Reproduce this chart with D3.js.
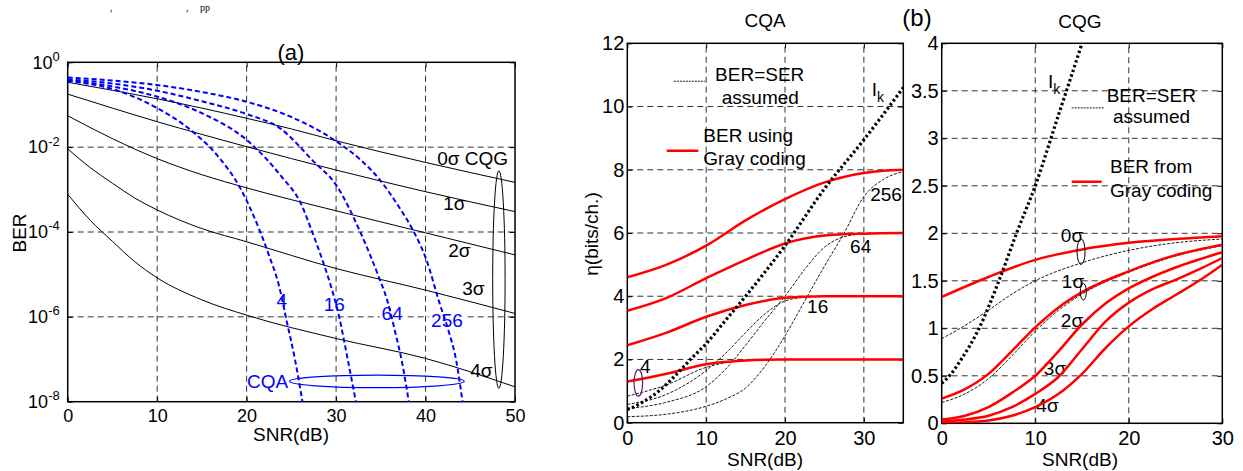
<!DOCTYPE html>
<html>
<head>
<meta charset="utf-8">
<script src="https://cdn.jsdelivr.net/npm/d3@7"></script>
<style>
  body { margin: 0; background: #fff; }
  svg { display: block; font-family: "Liberation Sans", Arial, sans-serif; }
</style>
</head>
<body>
<div id="chart-area"></div>
<script>
// ---------- panel (a): log10(BER) against SNR (dB) ----------
const cqgBer0s = [[0,-0.47],[5,-0.66],[10,-0.86],[15,-1.08],[20,-1.32],[25,-1.57],[30,-1.85],[40,-2.36],[50,-2.83]];
const cqgBer1s = [[0,-0.75],[5,-1.08],[10,-1.40],[15,-1.70],[20,-1.99],[30,-2.54],[40,-3.05],[50,-3.52]];
const cqgBer2s = [[0,-1.26],[5,-1.80],[10,-2.27],[15,-2.65],[20,-2.96],[30,-3.50],[40,-4.02],[50,-4.54]];
const cqgBer3s = [[0,-2.04],[2.5,-2.48],[5,-2.85],[7.5,-3.20],[10,-3.48],[15,-3.92],[20,-4.23],[30,-4.86],[40,-5.37],[50,-5.92]];
const cqgBer4s = [[0,-3.11],[2.5,-3.72],[5,-4.22],[7.5,-4.70],[10,-5.08],[15,-5.60],[20,-5.96],[30,-6.51],[40,-6.98],[50,-7.65]];

const cqaBer4   = [[0,-0.44],[5,-0.63],[10,-1.08],[14,-1.64],[16.7,-2.19],[19.3,-2.97],[21.3,-3.88],[22.5,-4.55],[23.6,-5.25],[24.5,-6.12],[25.4,-7.0],[26.4,-8.2]];
const cqaBer16  = [[0,-0.42],[5,-0.57],[10,-0.81],[15,-1.20],[20,-1.83],[24,-2.72],[26,-3.30],[27.3,-3.98],[28.6,-4.74],[29.5,-5.33],[30.3,-5.96],[31.3,-7.0],[32.3,-8.1]];
const cqaBer64  = [[0,-0.40],[5,-0.50],[10,-0.67],[15,-0.92],[20,-1.22],[23.7,-1.55],[27.5,-2.34],[30,-2.89],[32.7,-4.0],[34.7,-5.02],[35.7,-5.6],[36.6,-6.35],[37.4,-7.1],[38.2,-8.1]];
const cqaBer256 = [[0,-0.36],[5,-0.43],[10,-0.535],[15,-0.70],[20,-0.93],[25,-1.29],[30,-1.86],[33,-2.35],[35,-2.8],[37,-3.4],[38.7,-4.0],[40,-4.6],[41.6,-5.7],[42.6,-6.35],[43.4,-7.0],[44.2,-8.1]];

const berTicksX = [0, 10, 20, 30, 40, 50];
const berTicksY = [1e-8, 1e-6, 1e-4, 1e-2, 1];

// ---------- panel (b) left: CQA throughput (bits/ch.) ----------
const ikCurve = [[0,0.42],[1,0.52],[2,0.66],[4,1.0],[6,1.47],[8,2.0],[10,2.5],[12.5,3.25],[15,4.0],[20,5.6],[25,7.4],[30,8.95],[35,10.6]];

const grayQam4   = [[0,1.30],[5,1.55],[10,1.85],[15,1.97],[20,2.0],[35,2.0]];
const grayQam16  = [[0,2.45],[5,2.85],[10,3.35],[15,3.72],[20,3.95],[25,4.0],[35,4.0]];
const grayQam64  = [[0,3.54],[5,3.95],[10,4.57],[15,5.15],[20,5.67],[25,5.92],[30,5.98],[35,6.0]];
const grayQam256 = [[0,4.60],[5,5.0],[10,5.6],[15,6.4],[20,7.07],[25,7.6],[30,7.9],[35,8.0]];

const serQam4   = [[0,0.84],[5,1.2],[10,1.75],[12.5,1.9],[15,1.97],[17.5,2.0],[35,2.0]];
const serQam16  = [[0,0.58],[5,0.9],[10,1.65],[12.5,2.2],[15,2.85],[17.5,3.45],[20,3.85],[22.5,3.97],[25,4.0],[35,4.0]];
const serQam64  = [[0,0.45],[5,0.65],[10,1.14],[12.5,1.7],[15,2.45],[17.5,3.25],[20,4.0],[22.5,4.85],[25,5.55],[27.5,5.88],[30,5.97],[35,6.0]];
const serQam256 = [[0,0.19],[5,0.27],[10,0.52],[12.5,0.75],[15,1.1],[17.5,1.8],[20,2.75],[22.5,3.85],[25,4.95],[27.5,6.0],[30,7.15],[32.5,7.7],[35,7.94]];

const cqaTicksX = [0, 10, 20, 30];
const cqaTicksY = [0, 2, 4, 6, 8, 10, 12];

// ---------- panel (b) right: CQG throughput ----------
const cqgGray0 = [[0,1.33],[5,1.54],[10,1.72],[15,1.83],[20,1.9],[25,1.94],[30,1.97]];
const cqgGray1 = [[0,0.26],[2.5,0.36],[5,0.52],[7.5,0.76],[10,1.01],[12.5,1.22],[15,1.38],[20,1.6],[25,1.77],[30,1.88]];
const cqgGray2 = [[0,0.04],[2.5,0.08],[5,0.17],[7.5,0.32],[10,0.5],[12.5,0.76],[15,1.04],[17.5,1.26],[20,1.42],[22.5,1.54],[25,1.64],[30,1.8]];
const cqgGray3 = [[0,0.02],[2.5,0.04],[5,0.08],[7.5,0.17],[10,0.31],[12.5,0.49],[15,0.78],[17.5,1.07],[20,1.27],[22.5,1.41],[25,1.51],[27.5,1.62],[30,1.74]];
const cqgGray4 = [[0,0.005],[2.5,0.012],[5,0.03],[7.5,0.08],[10,0.17],[12.5,0.31],[15,0.52],[17.5,0.79],[20,1.02],[22.5,1.2],[25,1.35],[27.5,1.5],[30,1.67]];
const cqgSer0  = [[0,0.89],[2.5,1.03],[5,1.19],[7.5,1.36],[10,1.5],[15,1.69],[20,1.82],[25,1.9],[30,1.94]];
const cqgSer1  = [[0,0.22],[2.5,0.31],[5,0.47],[7.5,0.71],[10,0.97],[12.5,1.19],[15,1.36],[20,1.59],[25,1.76],[30,1.87]];

const cqgTicksX = [0, 10, 20, 30];
const cqgTicksY = [0, 0.5, 1, 1.5, 2, 2.5, 3, 3.5, 4];

const FONT = '"Liberation Sans", Arial, sans-serif';

let svg = d3.select("#chart-area")
  .append("svg")
    .attr("width", 1243)
    .attr("height", 471);

svg.append("rect").attr("width", 1243).attr("height", 471).attr("fill", "#fff");

// remains of the page text above the figure
svg.append("g")
    .attr("font-family", '"Liberation Serif", "Times New Roman", serif')
    .attr("font-size", 10)
  .selectAll("text")
  .data([[110, ","], [186, ","], [200, "pp"]])
  .enter().append("text")
    .attr("x", d => d[0])
    .attr("y", 11)
    .text(d => d[1]);

// grid, ticks on all four sides and the box
function frame(g, x, y, xt, yt, xGrid, yGrid, fontSize, yPad) {
  let [x0, x1] = x.range(), [y0, y1] = y.range();

  let grid = g.append("g")
      .attr("stroke", "#333")
      .attr("stroke-width", 1)
      .attr("stroke-dasharray", "6,4");
  xGrid.forEach(v => grid.append("line")
      .attr("x1", x(v)).attr("x2", x(v)).attr("y1", y0).attr("y2", y1));
  yGrid.forEach(v => grid.append("line")
      .attr("x1", x0).attr("x2", x1).attr("y1", y(v)).attr("y2", y(v)));

  let bottom = g.append("g")
      .attr("transform", `translate(0, ${y0})`)
      .call(d3.axisBottom(x).tickValues(xt).tickFormat(d => d)
        .tickSizeInner(-5).tickSizeOuter(0).tickPadding(8));
  g.append("g")
      .attr("transform", `translate(0, ${y1})`)
      .call(d3.axisTop(x).tickValues(xt).tickSizeInner(-5).tickSizeOuter(0).tickFormat(""));
  let left = g.append("g")
      .attr("transform", `translate(${x0}, 0)`)
      .call(d3.axisLeft(y).tickValues(yt).tickFormat(d => d)
        .tickSizeInner(-5).tickSizeOuter(0).tickPadding(yPad));
  g.append("g")
      .attr("transform", `translate(${x1}, 0)`)
      .call(d3.axisRight(y).tickValues(yt).tickSizeInner(-5).tickSizeOuter(0).tickFormat(""));

  g.selectAll(".domain").remove();
  g.selectAll(".tick line").attr("stroke", "#000");
  [bottom, left].forEach(a => a
      .attr("font-family", FONT)
      .attr("font-size", fontSize)
      .selectAll("text").attr("fill", "#000"));

  g.append("rect")
      .attr("x", x0).attr("y", y1)
      .attr("width", x1 - x0).attr("height", y0 - y1)
      .attr("fill", "none")
      .attr("stroke", "#000")
      .attr("stroke-width", 1.5);

  return left;
}

function clipFor(id, x, y) {
  let [x0, x1] = x.range(), [y0, y1] = y.range();
  svg.append("clipPath").attr("id", id)
    .append("rect")
      .attr("x", x0).attr("y", y1)
      .attr("width", x1 - x0).attr("height", y0 - y1);
  return svg.append("g").attr("clip-path", `url(#${id})`);
}

function label(g, x, y, pos, text, opts) {
  let t = g.append("text")
      .attr("x", x(pos[0]))
      .attr("y", y(pos[1]))
      .attr("dy", "0.35em")
      .attr("font-family", FONT)
      .attr("font-size", opts.size || 19)
      .attr("text-anchor", opts.anchor || "start")
      .attr("fill", opts.color || "#000")
      .text(text);
  if (opts.halo) {
    t.attr("stroke", "#fff").attr("stroke-width", 6).attr("paint-order", "stroke");
  }
  return t;
}

// =============== panel (a) ===============
let xa = d3.scaleLinear().domain([0, 50]).range([67.7, 515]);
let ya = d3.scaleLog().domain([1e-8, 1]).range([401.7, 62.3]);
let yaExp = v => ya(Math.pow(10, v));

let ga = svg.append("g");
let leftA = frame(ga, xa, ya, berTicksX, berTicksY, [10, 20, 30, 40], [1e-6, 1e-4, 1e-2], 18, 8);
leftA.selectAll(".tick text").each(function (d) {
  let t = d3.select(this).text("10");
  t.append("tspan")
      .attr("dy", "-0.6em")
      .attr("font-size", 13)
      .text(Math.round(Math.log10(d)));
});

let lineA = d3.line()
    .x(d => xa(d[0]))
    .y(d => yaExp(d[1]))
    .curve(d3.curveMonotoneX);

let plotA = clipFor("clip-a", xa, ya);

[cqgBer0s, cqgBer1s, cqgBer2s, cqgBer3s, cqgBer4s].forEach(s => plotA.append("path")
    .attr("d", lineA(s))
    .attr("fill", "none")
    .attr("stroke", "#000")
    .attr("stroke-width", 1));

[cqaBer4, cqaBer16, cqaBer64, cqaBer256].forEach(s => plotA.append("path")
    .attr("d", lineA(s))
    .attr("fill", "none")
    .attr("stroke", "#0000ff")
    .attr("stroke-width", 2)
    .attr("stroke-dasharray", "5,3"));

// CQA / CQG grouping ellipses
plotA.append("ellipse")
    .attr("cx", xa(34.56)).attr("cy", yaExp(-7.52))
    .attr("rx", xa(9.77) - xa(0)).attr("ry", 6.3)
    .attr("fill", "none").attr("stroke", "#0000ff").attr("stroke-width", 1.2);
plotA.append("ellipse")
    .attr("cx", xa(48.2)).attr("cy", yaExp(-5.12))
    .attr("rx", 6.2).attr("ry", 108.8)
    .attr("fill", "none").attr("stroke", "#000").attr("stroke-width", 1);

[["4", 23.94, -5.6], ["16", 29.79, -5.7], ["64", 36.27, -5.91], ["256", 42.39, -6.08]]
  .forEach(l => label(ga, xa, yaExp, [l[1], l[2]], l[0],
      { anchor: "middle", color: "#0000ff", halo: true }));
label(ga, xa, yaExp, [20.05, -7.52], "CQA", { color: "#0000ff" });

[["0σ CQG", 41.3, -2.257], ["1σ", 41.98, -3.32], ["2σ", 42.54, -4.43], ["3σ", 44.1, -5.32], ["4σ", 45.0, -7.26]]
  .forEach(l => label(ga, xa, yaExp, [l[1], l[2]], l[0], {}));

ga.append("text")
    .attr("x", 291).attr("y", 60)
    .attr("text-anchor", "middle")
    .attr("font-family", FONT).attr("font-size", 22)
    .text("(a)");
ga.append("text")
    .attr("x", 291).attr("y", 441)
    .attr("text-anchor", "middle")
    .attr("font-family", FONT).attr("font-size", 19)
    .text("SNR(dB)");
ga.append("text")
    .attr("transform", "translate(26, 233) rotate(-90)")
    .attr("text-anchor", "middle")
    .attr("font-family", FONT).attr("font-size", 19)
    .text("BER");

// =============== panel (b) left: CQA ===============
let xb = d3.scaleLinear().domain([0, 35]).range([627.3, 903.3]);
let yb = d3.scaleLinear().domain([0, 12]).range([422.7, 43.3]);

let gb = svg.append("g");
frame(gb, xb, yb, cqaTicksX, cqaTicksY, [10, 20, 30], [2, 4, 6, 8, 10], 20, 3);

let lineB = d3.line()
    .x(d => xb(d[0]))
    .y(d => yb(d[1]))
    .curve(d3.curveMonotoneX);

let plotB = clipFor("clip-b", xb, yb);

[serQam4, serQam16, serQam64, serQam256].forEach(s => plotB.append("path")
    .attr("d", lineB(s))
    .attr("fill", "none")
    .attr("stroke", "#000")
    .attr("stroke-width", 0.9)
    .attr("stroke-dasharray", "3,1.5"));

[grayQam4, grayQam16, grayQam64, grayQam256].forEach(s => plotB.append("path")
    .attr("d", lineB(s))
    .attr("fill", "none")
    .attr("stroke", "#ff0000")
    .attr("stroke-width", 2.5));

plotB.append("path")
    .attr("d", lineB(ikCurve))
    .attr("fill", "none")
    .attr("stroke", "#000")
    .attr("stroke-width", 3.2)
    .attr("stroke-dasharray", "2.5,2.5");

plotB.append("ellipse")
    .attr("cx", xb(1.4)).attr("cy", yb(1.26))
    .attr("rx", 4.3).attr("ry", 13.3)
    .attr("fill", "none").attr("stroke", "#5a1a6e").attr("stroke-width", 1.2);

// legend
gb.append("line")
    .attr("x1", xb(5.9)).attr("x2", xb(9.84)).attr("y1", yb(10.8)).attr("y2", yb(10.8))
    .attr("stroke", "#000").attr("stroke-width", 0.9).attr("stroke-dasharray", "2,1");
label(gb, xb, yb, [11.13, 11.03], "BER=SER", {});
label(gb, xb, yb, [11.98, 10.29], "assumed", {});
gb.append("line")
    .attr("x1", xb(5.0)).attr("x2", xb(9.0)).attr("y1", yb(8.6)).attr("y2", yb(8.6))
    .attr("stroke", "#ff0000").attr("stroke-width", 2.5);
label(gb, xb, yb, [9.64, 9.1], "BER using", {});
label(gb, xb, yb, [9.64, 8.36], "Gray coding", {});

[["256", 30.8, 7.23], ["64", 28.25, 5.57], ["16", 22.8, 3.67], ["4", 1.61, 1.77]]
  .forEach(l => label(gb, xb, yb, [l[1], l[2]], l[0], {}));

let ikB = label(gb, xb, yb, [31.0, 10.55], "I", {});
ikB.append("tspan").attr("dy", "0.45em").attr("font-size", 14).text("k");

gb.append("text")
    .attr("x", 765).attr("y", 27)
    .attr("text-anchor", "middle")
    .attr("font-family", FONT).attr("font-size", 19)
    .text("CQA");
gb.append("text")
    .attr("x", 765).attr("y", 466)
    .attr("text-anchor", "middle")
    .attr("font-family", FONT).attr("font-size", 19)
    .text("SNR(dB)");
gb.append("text")
    .attr("transform", "translate(598, 234) rotate(-90)")
    .attr("text-anchor", "middle")
    .attr("font-family", FONT).attr("font-size", 19)
    .text("η(bits/ch.)");

// =============== panel (b) right: CQG ===============
let xc = d3.scaleLinear().domain([0, 30]).range([941.7, 1222.3]);
let yc = d3.scaleLinear().domain([0, 4]).range([423.3, 43.3]);

let gc = svg.append("g");
frame(gc, xc, yc, cqgTicksX, cqgTicksY, [10, 20], [0.5, 1, 1.5, 2, 2.5, 3, 3.5], 20, 3);

let lineC = d3.line()
    .x(d => xc(d[0]))
    .y(d => yc(d[1]))
    .curve(d3.curveMonotoneX);

let plotC = clipFor("clip-c", xc, yc);

[cqgSer0, cqgSer1].forEach(s => plotC.append("path")
    .attr("d", lineC(s))
    .attr("fill", "none")
    .attr("stroke", "#000")
    .attr("stroke-width", 0.9)
    .attr("stroke-dasharray", "3,1.5"));

[cqgGray0, cqgGray1, cqgGray2, cqgGray3, cqgGray4].forEach(s => plotC.append("path")
    .attr("d", lineC(s))
    .attr("fill", "none")
    .attr("stroke", "#ff0000")
    .attr("stroke-width", 2.5));

plotC.append("path")
    .attr("d", lineC(ikCurve))
    .attr("fill", "none")
    .attr("stroke", "#000")
    .attr("stroke-width", 3.2)
    .attr("stroke-dasharray", "2.5,2.5");

plotC.append("ellipse")
    .attr("cx", xc(14.9)).attr("cy", yc(1.806))
    .attr("rx", 4).attr("ry", 12.8)
    .attr("fill", "none").attr("stroke", "#000").attr("stroke-width", 1);
plotC.append("ellipse")
    .attr("cx", xc(15.14)).attr("cy", yc(1.385))
    .attr("rx", 3).attr("ry", 8.3)
    .attr("fill", "none").attr("stroke", "#000").attr("stroke-width", 1);

gc.append("line")
    .attr("x1", xc(13.9)).attr("x2", xc(17.4)).attr("y1", yc(3.32)).attr("y2", yc(3.32))
    .attr("stroke", "#000").attr("stroke-width", 0.9).attr("stroke-dasharray", "2,1");
label(gc, xc, yc, [17.64, 3.456], "BER=SER", {});
label(gc, xc, yc, [18.31, 3.227], "assumed", {});
gc.append("line")
    .attr("x1", xc(13.9)).attr("x2", xc(17.1)).attr("y1", yc(2.543)).attr("y2", yc(2.543))
    .attr("stroke", "#ff0000").attr("stroke-width", 2.5);
label(gc, xc, yc, [17.99, 2.70], "BER from", {});
label(gc, xc, yc, [17.99, 2.45], "Gray coding", {});

[["0σ", 13.93, 1.98], ["1σ", 14.04, 1.49], ["2σ", 13.93, 1.087], ["3σ", 12.11, 0.579], ["4σ", 11.31, 0.193]]
  .forEach(l => label(gc, xc, yc, [l[1], l[2]], l[0], { anchor: "middle" }));

let ikC = label(gc, xc, yc, [11.36, 3.6], "I", {});
ikC.append("tspan").attr("dy", "0.45em").attr("font-size", 14).text("k");

gc.append("text")
    .attr("x", 917).attr("y", 26)
    .attr("text-anchor", "middle")
    .attr("font-family", FONT).attr("font-size", 24)
    .text("(b)");
gc.append("text")
    .attr("x", 1080).attr("y", 28)
    .attr("text-anchor", "middle")
    .attr("font-family", FONT).attr("font-size", 19)
    .text("CQG");
gc.append("text")
    .attr("x", 1080).attr("y", 466)
    .attr("text-anchor", "middle")
    .attr("font-family", FONT).attr("font-size", 19)
    .text("SNR(dB)");
</script>
</body>
</html>
